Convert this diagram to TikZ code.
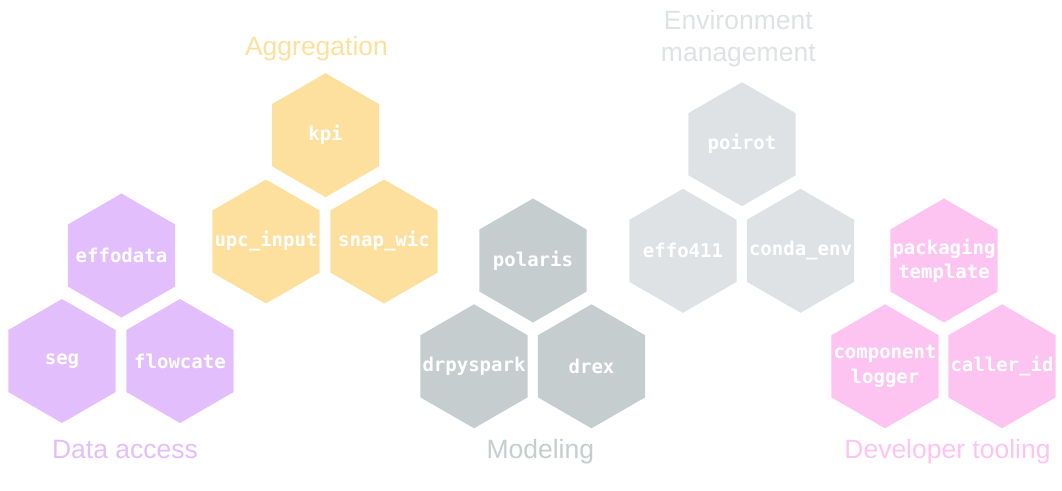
\documentclass[tikz,border=0pt]{standalone}
\usepackage{fontspec}
\setmainfont{Liberation Sans}
\newfontfamily\hexfont{DejaVu Sans Mono}
\usetikzlibrary{shapes.geometric}
\definecolor{cpurple}{RGB}{227,190,253}
\definecolor{cyellow}{RGB}{253,224,157}
\definecolor{cmodel}{RGB}{197,205,207}
\definecolor{cenv}{RGB}{222,226,228}
\definecolor{cpink}{RGB}{253,196,241}
\tikzset{
  hexa/.style={regular polygon, regular polygon sides=6, shape border rotate=30,
    minimum size=124pt, inner sep=0pt, fill=#1},
  hexlabel/.style={text=white, inner sep=0pt,
    font=\hexfont\bfseries\fontsize{19}{24.4}\selectfont, align=center},
  grouplabel/.style={text=#1, font=\fontsize{26.5}{32}\selectfont, align=center, inner sep=0pt}
}
\begin{document}
\begin{tikzpicture}[x=1pt,y=-1pt]
\useasboundingbox (0,0) rectangle (1062,490);
% Data access
\node[hexa=cpurple, label={[hexlabel]center:effodata}] (effodata) at (121.5,255.5) {};
\node[hexa=cpurple, label={[hexlabel]center:seg}] (seg) at (62,361) {};
\node[hexa=cpurple, label={[hexlabel]center:flowcate}] (flowcate) at (180,361) {};
\node[grouplabel=cpurple] (lda) at (125,450) {Data access};
% Aggregation
\node[hexa=cyellow, label={[hexlabel]center:kpi}] (kpi) at (325.5,135.2) {};
\node[hexa=cyellow, label={[hexlabel]center:upc\_input}] (upc) at (266,241.5) {};
\node[hexa=cyellow, label={[hexlabel]center:snap\_wic}] (snap) at (384,241.5) {};
\node[grouplabel=cyellow] (lagg) at (316.5,48.5) {Aggregation};
% Modeling
\node[hexa=cmodel, label={[hexlabel]center:polaris}] (polaris) at (533,260.5) {};
\node[hexa=cmodel, label={[hexlabel]center:drpyspark}] (drpyspark) at (474,366.3) {};
\node[hexa=cmodel, label={[hexlabel]center:drex}] (drex) at (591.5,366.3) {};
\node[grouplabel=cmodel] (lmod) at (540.3,451.7) {Modeling};
% Environment management
\node[hexa=cenv, label={[hexlabel]center:poirot}] (poirot) at (742,144.2) {};
\node[hexa=cenv, label={[hexlabel]center:effo411}] (effo) at (683,250.8) {};
\node[hexa=cenv, label={[hexlabel]center:conda\_env}] (conda) at (800.5,250.8) {};
\node[grouplabel=cenv] (lenv) at (738.3,39) {Environment\\management};
% Developer tooling
\node[hexa=cpink, label={[hexlabel]center:{packaging\\template}}] (pack) at (944,260.5) {};
\node[hexa=cpink, label={[hexlabel]center:{component\\logger}}] (comp) at (885,366.3) {};
\node[hexa=cpink, label={[hexlabel]center:caller\_id}] (caller) at (1002,366.3) {};
\node[grouplabel=cpink] (ldev) at (947.5,451.7) {Developer tooling};
\end{tikzpicture}
\end{document}
